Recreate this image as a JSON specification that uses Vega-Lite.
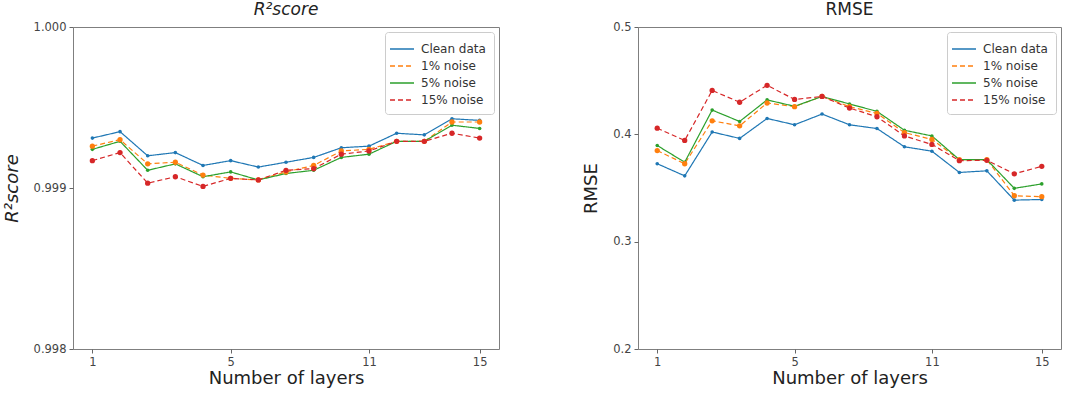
{
  "$schema": "https://vega.github.io/schema/vega-lite/v6.json",
  "padding": {"left": 2, "top": 0, "right": 5, "bottom": 2},
  "background": "white",
  "config": {
    "view": {"stroke": "#7f7f7f", "strokeWidth": 1},
    "font": "DejaVu Sans",
    "axis": {"grid": false, "domain": false, "tickColor": "#666", "tickSize": 4, "labelColor": "#444", "labelFontSize": 11.5, "labelPadding": 3, "titleFontSize": 18, "titleFontWeight": "normal", "titleColor": "#222", "titlePadding": 2},
    "axisY": {"titlePadding": 12},
    "title": {"fontSize": 17, "fontWeight": "normal", "color": "#222", "offset": 2},
    "legend": {"orient": "top-right", "offset": 5, "strokeColor": "#cccccc", "fillColor": "white", "padding": 6, "cornerRadius": 3, "labelFontSize": 12, "labelColor": "#333", "rowPadding": 2, "symbolStrokeWidth": 1.3}
  },
  "datasets": {
    "r2": [
      {"layer": 1, "series": "Clean data", "value": 0.99931}, {"layer": 2, "series": "Clean data", "value": 0.99935}, {"layer": 3, "series": "Clean data", "value": 0.9992}, {"layer": 4, "series": "Clean data", "value": 0.99922}, {"layer": 5, "series": "Clean data", "value": 0.99914}, {"layer": 6, "series": "Clean data", "value": 0.99917}, {"layer": 7, "series": "Clean data", "value": 0.99913}, {"layer": 8, "series": "Clean data", "value": 0.99916}, {"layer": 9, "series": "Clean data", "value": 0.99919}, {"layer": 10, "series": "Clean data", "value": 0.99925}, {"layer": 11, "series": "Clean data", "value": 0.99926}, {"layer": 12, "series": "Clean data", "value": 0.99934}, {"layer": 13, "series": "Clean data", "value": 0.99933}, {"layer": 14, "series": "Clean data", "value": 0.99943}, {"layer": 15, "series": "Clean data", "value": 0.99942},
      {"layer": 1, "series": "1% noise", "value": 0.99926}, {"layer": 2, "series": "1% noise", "value": 0.9993}, {"layer": 3, "series": "1% noise", "value": 0.99915}, {"layer": 4, "series": "1% noise", "value": 0.99916}, {"layer": 5, "series": "1% noise", "value": 0.99908}, {"layer": 6, "series": "1% noise", "value": 0.99906}, {"layer": 7, "series": "1% noise", "value": 0.99905}, {"layer": 8, "series": "1% noise", "value": 0.9991}, {"layer": 9, "series": "1% noise", "value": 0.99914}, {"layer": 10, "series": "1% noise", "value": 0.99923}, {"layer": 11, "series": "1% noise", "value": 0.99924}, {"layer": 12, "series": "1% noise", "value": 0.99929}, {"layer": 13, "series": "1% noise", "value": 0.99929}, {"layer": 14, "series": "1% noise", "value": 0.99941}, {"layer": 15, "series": "1% noise", "value": 0.99941},
      {"layer": 1, "series": "5% noise", "value": 0.99924}, {"layer": 2, "series": "5% noise", "value": 0.99929}, {"layer": 3, "series": "5% noise", "value": 0.99911}, {"layer": 4, "series": "5% noise", "value": 0.99915}, {"layer": 5, "series": "5% noise", "value": 0.99907}, {"layer": 6, "series": "5% noise", "value": 0.9991}, {"layer": 7, "series": "5% noise", "value": 0.99905}, {"layer": 8, "series": "5% noise", "value": 0.99909}, {"layer": 9, "series": "5% noise", "value": 0.99911}, {"layer": 10, "series": "5% noise", "value": 0.99919}, {"layer": 11, "series": "5% noise", "value": 0.99921}, {"layer": 12, "series": "5% noise", "value": 0.99929}, {"layer": 13, "series": "5% noise", "value": 0.99929}, {"layer": 14, "series": "5% noise", "value": 0.99939}, {"layer": 15, "series": "5% noise", "value": 0.99937},
      {"layer": 1, "series": "15% noise", "value": 0.99917}, {"layer": 2, "series": "15% noise", "value": 0.99922}, {"layer": 3, "series": "15% noise", "value": 0.99903}, {"layer": 4, "series": "15% noise", "value": 0.99907}, {"layer": 5, "series": "15% noise", "value": 0.99901}, {"layer": 6, "series": "15% noise", "value": 0.99906}, {"layer": 7, "series": "15% noise", "value": 0.99905}, {"layer": 8, "series": "15% noise", "value": 0.99911}, {"layer": 9, "series": "15% noise", "value": 0.99912}, {"layer": 10, "series": "15% noise", "value": 0.99921}, {"layer": 11, "series": "15% noise", "value": 0.99923}, {"layer": 12, "series": "15% noise", "value": 0.99929}, {"layer": 13, "series": "15% noise", "value": 0.99929}, {"layer": 14, "series": "15% noise", "value": 0.99934}, {"layer": 15, "series": "15% noise", "value": 0.99931}
    ],
    "rmse": [
      {"layer": 1, "series": "Clean data", "value": 0.3726}, {"layer": 2, "series": "Clean data", "value": 0.3613}, {"layer": 3, "series": "Clean data", "value": 0.4022}, {"layer": 4, "series": "Clean data", "value": 0.3962}, {"layer": 5, "series": "Clean data", "value": 0.4148}, {"layer": 6, "series": "Clean data", "value": 0.4089}, {"layer": 7, "series": "Clean data", "value": 0.4189}, {"layer": 8, "series": "Clean data", "value": 0.4089}, {"layer": 9, "series": "Clean data", "value": 0.4054}, {"layer": 10, "series": "Clean data", "value": 0.3884}, {"layer": 11, "series": "Clean data", "value": 0.3843}, {"layer": 12, "series": "Clean data", "value": 0.3645}, {"layer": 13, "series": "Clean data", "value": 0.366}, {"layer": 14, "series": "Clean data", "value": 0.3387}, {"layer": 15, "series": "Clean data", "value": 0.3393},
      {"layer": 1, "series": "1% noise", "value": 0.3849}, {"layer": 2, "series": "1% noise", "value": 0.3726}, {"layer": 3, "series": "1% noise", "value": 0.4126}, {"layer": 4, "series": "1% noise", "value": 0.4079}, {"layer": 5, "series": "1% noise", "value": 0.4292}, {"layer": 6, "series": "1% noise", "value": 0.4258}, {"layer": 7, "series": "1% noise", "value": 0.4353}, {"layer": 8, "series": "1% noise", "value": 0.4258}, {"layer": 9, "series": "1% noise", "value": 0.4195}, {"layer": 10, "series": "1% noise", "value": 0.4016}, {"layer": 11, "series": "1% noise", "value": 0.3953}, {"layer": 12, "series": "1% noise", "value": 0.3764}, {"layer": 13, "series": "1% noise", "value": 0.3764}, {"layer": 14, "series": "1% noise", "value": 0.3428}, {"layer": 15, "series": "1% noise", "value": 0.3419},
      {"layer": 1, "series": "5% noise", "value": 0.3896}, {"layer": 2, "series": "5% noise", "value": 0.374}, {"layer": 3, "series": "5% noise", "value": 0.4226}, {"layer": 4, "series": "5% noise", "value": 0.412}, {"layer": 5, "series": "5% noise", "value": 0.4321}, {"layer": 6, "series": "5% noise", "value": 0.4261}, {"layer": 7, "series": "5% noise", "value": 0.4353}, {"layer": 8, "series": "5% noise", "value": 0.4283}, {"layer": 9, "series": "5% noise", "value": 0.4214}, {"layer": 10, "series": "5% noise", "value": 0.4038}, {"layer": 11, "series": "5% noise", "value": 0.3985}, {"layer": 12, "series": "5% noise", "value": 0.3764}, {"layer": 13, "series": "5% noise", "value": 0.3764}, {"layer": 14, "series": "5% noise", "value": 0.3497}, {"layer": 15, "series": "5% noise", "value": 0.3538},
      {"layer": 1, "series": "15% noise", "value": 0.4057}, {"layer": 2, "series": "15% noise", "value": 0.3943}, {"layer": 3, "series": "15% noise", "value": 0.4409}, {"layer": 4, "series": "15% noise", "value": 0.4299}, {"layer": 5, "series": "15% noise", "value": 0.4457}, {"layer": 6, "series": "15% noise", "value": 0.4325}, {"layer": 7, "series": "15% noise", "value": 0.4353}, {"layer": 8, "series": "15% noise", "value": 0.4245}, {"layer": 9, "series": "15% noise", "value": 0.4164}, {"layer": 10, "series": "15% noise", "value": 0.3985}, {"layer": 11, "series": "15% noise", "value": 0.3906}, {"layer": 12, "series": "15% noise", "value": 0.3755}, {"layer": 13, "series": "15% noise", "value": 0.3758}, {"layer": 14, "series": "15% noise", "value": 0.3632}, {"layer": 15, "series": "15% noise", "value": 0.3702}
    ]
  },
  "resolve": {
    "scale": {"color": "independent", "strokeDash": "independent"},
    "legend": {"color": "independent", "strokeDash": "independent"}
  },
  "spacing": 82,
  "hconcat": [
    {
      "width": 426,
      "height": 322,
      "title": {"text": "R²score", "fontStyle": "italic"},
      "data": {"name": "r2"},
      "encoding": {
        "x": {"field": "layer", "type": "quantitative", "scale": {"domain": [0.3, 15.7], "nice": false, "zero": false}, "axis": {"values": [1, 6, 11, 15], "labelExpr": "datum.value == 6 ? '5' : datum.label", "title": "Number of layers"}},
        "y": {"field": "value", "type": "quantitative", "scale": {"domain": [0.998, 1.0], "nice": false, "zero": false}, "axis": {"values": [0.998, 0.999, 1.0], "format": ".3f", "title": "R²score", "titleFontStyle": "italic"}},
        "color": {"field": "series", "type": "nominal", "scale": {"domain": ["Clean data", "1% noise", "5% noise", "15% noise"], "range": ["#1f77b4", "#ff7f0e", "#2ca02c", "#d62728"]}, "legend": {"title": null, "orient": "top-right", "symbolType": "M-1.5,0L1.5,0", "symbolSize": 256, "labelOffset": 10, "padding": 8}}
      },
      "layer": [
        {"mark": {"type": "line", "strokeWidth": 1.2}, "encoding": {"strokeDash": {"field": "series", "type": "nominal", "scale": {"domain": ["Clean data", "1% noise", "5% noise", "15% noise"], "range": [[1, 0], [5, 3], [1, 0], [5, 3]]}, "legend": {"title": null, "orient": "top-right", "symbolType": "M-1.5,0L1.5,0", "symbolSize": 256, "labelOffset": 10, "padding": 8}}}},
        {"transform": [{"filter": "datum.series == 'Clean data' || datum.series == '5% noise'"}], "mark": {"type": "point", "filled": true, "opacity": 1, "size": 13}},
        {"transform": [{"filter": "datum.series == '1% noise' || datum.series == '15% noise'"}], "mark": {"type": "point", "filled": true, "opacity": 1, "size": 28}}
      ]
    },
    {
      "width": 423,
      "height": 322,
      "title": {"text": "RMSE"},
      "data": {"name": "rmse"},
      "encoding": {
        "x": {"field": "layer", "type": "quantitative", "scale": {"domain": [0.3, 15.7], "nice": false, "zero": false}, "axis": {"values": [1, 6, 11, 15], "labelExpr": "datum.value == 6 ? '5' : datum.label", "title": "Number of layers"}},
        "y": {"field": "value", "type": "quantitative", "scale": {"domain": [0.2, 0.5], "nice": false, "zero": false}, "axis": {"values": [0.2, 0.3, 0.4, 0.5], "format": ".1f", "title": "RMSE"}},
        "color": {"field": "series", "type": "nominal", "scale": {"domain": ["Clean data", "1% noise", "5% noise", "15% noise"], "range": ["#1f77b4", "#ff7f0e", "#2ca02c", "#d62728"]}, "legend": {"title": null, "orient": "top-right", "symbolType": "M-1.5,0L1.5,0", "symbolSize": 256, "labelOffset": 10, "padding": 8}}
      },
      "layer": [
        {"mark": {"type": "line", "strokeWidth": 1.2}, "encoding": {"strokeDash": {"field": "series", "type": "nominal", "scale": {"domain": ["Clean data", "1% noise", "5% noise", "15% noise"], "range": [[1, 0], [5, 3], [1, 0], [5, 3]]}, "legend": {"title": null, "orient": "top-right", "symbolType": "M-1.5,0L1.5,0", "symbolSize": 256, "labelOffset": 10, "padding": 8}}}},
        {"transform": [{"filter": "datum.series == 'Clean data' || datum.series == '5% noise'"}], "mark": {"type": "point", "filled": true, "opacity": 1, "size": 13}},
        {"transform": [{"filter": "datum.series == '1% noise' || datum.series == '15% noise'"}], "mark": {"type": "point", "filled": true, "opacity": 1, "size": 28}}
      ]
    }
  ]
}
